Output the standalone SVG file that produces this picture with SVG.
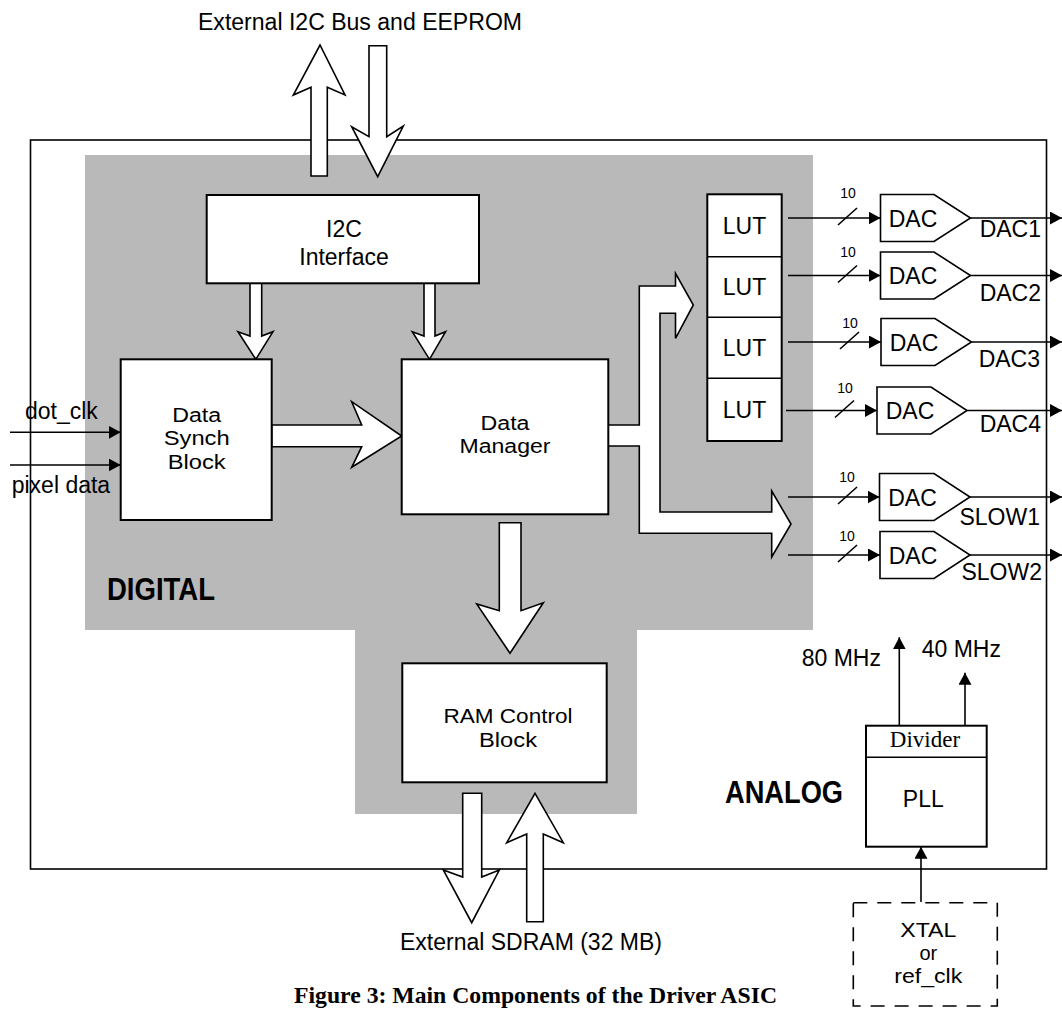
<svg xmlns="http://www.w3.org/2000/svg" width="1062" height="1009" viewBox="0 0 1062 1009">
<style>
.box{fill:#fff;stroke:#000;stroke-width:2}
.hollow{fill:#fff;stroke:#000;stroke-width:1.6;stroke-linejoin:miter}
.wire{stroke:#000;stroke-width:1.6;fill:none}
.frame{fill:none;stroke:#000;stroke-width:1.6}
.dash{fill:none;stroke:#000;stroke-width:1.6;stroke-dasharray:14 10}
.t{font-family:"Liberation Sans",Arial,Helvetica,sans-serif;font-size:23px;fill:#000}
.st{font-size:20px}
.m{text-anchor:middle}
.e{text-anchor:end}
.s{font-family:"Liberation Serif","Times New Roman",serif}
.small{font-size:14px}
.big{font-weight:bold;font-size:31px}
</style>
<defs>
<marker id="ah" markerUnits="userSpaceOnUse" markerWidth="13" markerHeight="14" refX="12" refY="6.5" orient="auto">
<path d="M0,0 L12,6.5 L0,13 z" fill="#000"/>
</marker>
</defs>
<rect width="1062" height="1009" fill="#fff"/>

<g id="analog-frame">
<rect class="frame" x="30.5" y="140" width="1016" height="729"/>
<text class="t big" x="725" y="803" textLength="118" lengthAdjust="spacingAndGlyphs">ANALOG</text>
</g>

<g id="digital-region">
<polygon points="85,155 813,155 813,630 637,630 637,814 355,814 355,630 85,630" fill="#b9b9b9"/>
<text class="t big" x="107" y="600" font-size="30" textLength="108" lengthAdjust="spacingAndGlyphs">DIGITAL</text>
</g>

<g id="connectors">
<!-- external I2C bus arrows -->
<polygon class="hollow" points="311,176 311,87.3 293.3,95 320,45 345,95 327.3,87.3 327.3,176"/>
<polygon class="hollow" points="369,45.7 386.7,45.7 386.7,136.7 403.3,126 377.7,176.7 351.7,126.7 369,136.7"/>
<!-- I2C to Data Synch / Data Manager -->
<polygon class="hollow" points="250,283.3 261.7,283.3 261.7,336 273,331.7 255.8,359.3 238,331.7 250,336"/>
<polygon class="hollow" points="424,283.3 435,283.3 435,336 445.6,331.7 429.5,359.3 412.3,331.7 424,336"/>
<!-- Data Synch to Data Manager -->
<polygon class="hollow" points="271.7,425 361.7,425 351.7,401.7 401.7,436 351.7,467.3 361.7,446.7 271.7,446.7"/>
<!-- Data Manager to RAM Control -->
<polygon class="hollow" points="499.3,522.7 521,522.7 521,610.7 543.3,602.7 510,653.3 476.7,604 499.3,610.7"/>
<!-- Data Manager branching bus to LUT and SLOW DACs -->
<path class="hollow" d="M608.3,425 L639.3,425 L639.3,286 L675.5,286 L675.5,273.3 L693.3,305 L675.5,338.3 L675.5,313.3 L660,313.3 L660,512 L771.7,512 L771.7,491 L791,524 L771.7,557 L771.7,533.3 L639.3,533.3 L639.3,446 L608.3,446"/>
<!-- SDRAM arrows -->
<polygon class="hollow" points="462.7,793.3 481.7,793.3 481.7,877 499.3,870 471.7,922.7 443.3,870 462.7,877"/>
<polygon class="hollow" points="526.7,921.7 526.7,834 506.7,842.7 535,793.3 563.3,842.7 543.3,834 543.3,921.7"/>
<!-- external inputs -->
<line class="wire" x1="10" y1="432.3" x2="120.7" y2="432.3" marker-end="url(#ah)"/>
<line class="wire" x1="10" y1="465" x2="120.7" y2="465" marker-end="url(#ah)"/>
<!-- LUT/bus to DAC, 10-bit -->
<line class="wire" x1="788" y1="218" x2="880.5" y2="218" marker-end="url(#ah)"/>
<line class="wire" x1="838" y1="225" x2="857" y2="208"/>
<line class="wire" x1="788" y1="275.5" x2="880.5" y2="275.5" marker-end="url(#ah)"/>
<line class="wire" x1="838" y1="282.5" x2="857" y2="265.5"/>
<line class="wire" x1="788" y1="342" x2="881" y2="342" marker-end="url(#ah)"/>
<line class="wire" x1="840" y1="349" x2="859" y2="332"/>
<line class="wire" x1="786" y1="410.5" x2="877" y2="410.5" marker-end="url(#ah)"/>
<line class="wire" x1="835" y1="417.5" x2="854" y2="400.5"/>
<line class="wire" x1="788" y1="497" x2="879.5" y2="497" marker-end="url(#ah)"/>
<line class="wire" x1="838" y1="504" x2="857" y2="487"/>
<line class="wire" x1="788" y1="555" x2="880" y2="555" marker-end="url(#ah)"/>
<line class="wire" x1="838" y1="562" x2="857" y2="545"/>
<text class="t small m" x="848" y="198.3">10</text>
<text class="t small m" x="848" y="256.7">10</text>
<text class="t small m" x="850" y="328">10</text>
<text class="t small m" x="845" y="393">10</text>
<text class="t small m" x="847" y="481.7">10</text>
<text class="t small m" x="847" y="540.7">10</text>
<!-- DAC outputs -->
<line class="wire" x1="970.5" y1="218" x2="1062" y2="218" marker-end="url(#ah)"/>
<line class="wire" x1="970.5" y1="275.5" x2="1062" y2="275.5" marker-end="url(#ah)"/>
<line class="wire" x1="971.5" y1="342" x2="1062" y2="342" marker-end="url(#ah)"/>
<line class="wire" x1="967" y1="410.5" x2="1062" y2="410.5" marker-end="url(#ah)"/>
<line class="wire" x1="970" y1="497" x2="1062" y2="497" marker-end="url(#ah)"/>
<line class="wire" x1="970" y1="555" x2="1062" y2="555" marker-end="url(#ah)"/>
<!-- clocks -->
<line class="wire" x1="899.3" y1="725.7" x2="899.3" y2="637.3" marker-end="url(#ah)"/>
<line class="wire" x1="965" y1="725.7" x2="965" y2="672.7" marker-end="url(#ah)"/>
<line class="wire" x1="921" y1="902" x2="921" y2="846.7" marker-end="url(#ah)"/>
</g>

<text class="t" x="198" y="29.5" textLength="324" lengthAdjust="spacingAndGlyphs">External I2C Bus and EEPROM</text>
<text class="t" x="400" y="950" textLength="262" lengthAdjust="spacingAndGlyphs">External SDRAM (32 MB)</text>
<text class="t" x="25" y="419.3">dot_clk</text>
<text class="t" x="11.7" y="492.7">pixel data</text>
<text class="t" x="801.7" y="666">80 MHz</text>
<text class="t" x="921.7" y="656.7">40 MHz</text>

<g id="i2c-interface">
<rect class="box" x="206.7" y="195" width="272.3" height="88.3"/>
<text class="t m" x="344" y="236.7">I2C</text>
<text class="t m" x="344" y="265">Interface</text>
</g>

<g id="data-synch">
<rect class="box" x="120.7" y="359.3" width="151" height="160.7"/>
<text class="t st m" x="196.7" y="421.7" textLength="49" lengthAdjust="spacingAndGlyphs">Data</text>
<text class="t st m" x="196.7" y="445" textLength="66" lengthAdjust="spacingAndGlyphs">Synch</text>
<text class="t st m" x="196.7" y="469.3" textLength="58" lengthAdjust="spacingAndGlyphs">Block</text>
</g>

<g id="data-manager">
<rect class="box" x="401.7" y="359.3" width="206.6" height="155"/>
<text class="t st m" x="505" y="430" textLength="49" lengthAdjust="spacingAndGlyphs">Data</text>
<text class="t st m" x="505" y="453.3" textLength="91" lengthAdjust="spacingAndGlyphs">Manager</text>
</g>

<g id="ram-control">
<rect class="box" x="402.3" y="663.3" width="204.4" height="119"/>
<text class="t st m" x="508" y="723.3" textLength="129" lengthAdjust="spacingAndGlyphs">RAM Control</text>
<text class="t st m" x="508" y="747.3" textLength="58" lengthAdjust="spacingAndGlyphs">Block</text>
</g>

<g id="lut">
<rect class="box" x="707.3" y="194.3" width="74.4" height="246.7"/>
<line class="wire" x1="707.3" y1="256.7" x2="781.7" y2="256.7"/>
<line class="wire" x1="707.3" y1="317.3" x2="781.7" y2="317.3"/>
<line class="wire" x1="707.3" y1="378.3" x2="781.7" y2="378.3"/>
<text class="t m" x="744.5" y="234">LUT</text>
<text class="t m" x="744.5" y="295">LUT</text>
<text class="t m" x="744.5" y="356">LUT</text>
<text class="t m" x="744.5" y="418">LUT</text>
</g>

<g id="dac1">
<polygon class="hollow" points="880.5,194.5 934,194.5 970.5,218 934,241.5 880.5,241.5"/>
<text class="t m" x="913" y="226.5">DAC</text>
<text class="t e" x="1041" y="236.7">DAC1</text>
</g>
<g id="dac2">
<polygon class="hollow" points="880.5,252 934,252 970.5,275.5 934,299 880.5,299"/>
<text class="t m" x="913" y="284">DAC</text>
<text class="t e" x="1041" y="300.7">DAC2</text>
</g>
<g id="dac3">
<polygon class="hollow" points="881,318.5 935,318.5 971.5,342 935,365.5 881,365.5"/>
<text class="t m" x="914" y="350.5">DAC</text>
<text class="t e" x="1040" y="366.7">DAC3</text>
</g>
<g id="dac4">
<polygon class="hollow" points="877,387 931,387 967,410.5 931,434 877,434"/>
<text class="t m" x="910" y="419">DAC</text>
<text class="t e" x="1041" y="431.7">DAC4</text>
</g>
<g id="dac-slow1">
<polygon class="hollow" points="879.5,473.5 934,473.5 970,497 934,520.5 879.5,520.5"/>
<text class="t m" x="912.5" y="505.5">DAC</text>
<text class="t e" x="1040" y="525">SLOW1</text>
</g>
<g id="dac-slow2">
<polygon class="hollow" points="880,531.5 934,531.5 970,555 934,578.5 880,578.5"/>
<text class="t m" x="913" y="563.5">DAC</text>
<text class="t e" x="1042" y="580">SLOW2</text>
</g>

<g id="pll">
<rect class="box" x="866" y="725.7" width="120.7" height="121"/>
<line class="wire" x1="866" y1="757.3" x2="986.7" y2="757.3"/>
<text class="t s m" x="925" y="746.7" font-size="22">Divider</text>
<text class="t m" x="923.3" y="807.3">PLL</text>
</g>

<g id="xtal">
<rect class="dash" x="853.3" y="902.7" width="144" height="103.3"/>
<text class="t st m" x="928.3" y="936.7" textLength="56" lengthAdjust="spacingAndGlyphs">XTAL</text>
<text class="t st m" x="928.3" y="960">or</text>
<text class="t st m" x="928.3" y="983.3" textLength="68" lengthAdjust="spacingAndGlyphs">ref_clk</text>
</g>

<text class="t s" x="294" y="1003" font-size="23" font-weight="bold" textLength="483" lengthAdjust="spacingAndGlyphs">Figure 3: Main Components of the Driver ASIC</text>
</svg>
